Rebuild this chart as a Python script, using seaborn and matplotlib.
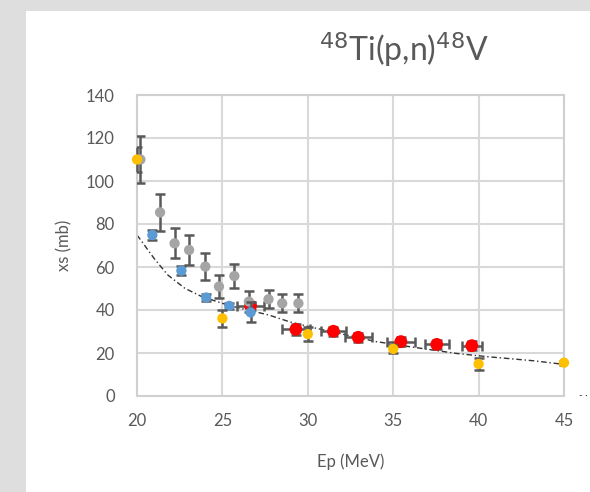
import pandas as pd
import matplotlib.pyplot as plt
import seaborn as sns
from matplotlib.patches import Rectangle

sns.set_theme(style="white")
plt.rcParams["font.family"] = ["Lato", "DejaVu Sans"]

# gray data set (y errors)
gray_E = [20.2, 21.35, 22.2, 23.05, 24.0, 24.8, 25.7, 26.55, 27.7, 28.5, 29.45]
gray_xs = [110, 85.4, 71, 67.9, 60.2, 50.9, 55.8, 43.9, 45, 43.1, 43.1]
gray_err = [11, 8.7, 7, 7, 6.2, 5.2, 5.5, 5, 4.3, 4.2, 4.2]

# blue data set
blue_E = [20.9, 22.6, 24.05, 25.4, 26.65]
blue_xs = [74.9, 58.3, 45.8, 41.9, 38.9]
blue_err = [2.3, 2, 1.5, 1.5, 4.6]

# yellow data set
yellow_E = [20.0, 25.0, 30.0, 35.0, 40.0, 45.0]
yellow_xs = [110, 36.1, 28.8, 21.9, 14.9, 15.5]
yellow_err = [6, 4, 3.2, 2, 2.7, 1]

# red data set (x and y errors)
red_E = [26.65, 29.3, 31.5, 32.95, 35.45, 37.55, 39.6]
red_xs = [41.9, 31.0, 30.1, 27.3, 25.3, 24.0, 23.4]
red_xerr = [0.8, 0.8, 0.72, 0.78, 0.8, 0.7, 0.6]
red_yerr = [2, 2.6, 2, 2, 2, 2, 2]

# trend curve
trend_E = [20, 21, 21.8, 22.8, 23.8, 25, 25.7, 27.7, 28.9, 30.1, 34, 36, 38.7, 40.5, 43.2, 45]
trend_xs = [74.9, 64, 56.3, 50.1, 46.2, 43.1, 41.5, 37.7, 34.6, 32.2, 25.3, 22.9, 19.8, 18.3, 16.4, 14.7]

fig = plt.figure(figsize=(5.9, 4.92), dpi=100)
fig.patch.set_facecolor("#dedede")
# white card with shadow edge
fig.add_artist(Rectangle((26 / 590, 0), 1, 1 - 11 / 492, transform=fig.transFigure,
                         facecolor="white", edgecolor="none", zorder=0))

ax = fig.add_axes([137 / 590, 96 / 492, 427 / 590, 301 / 492])
ax.set_facecolor("white")

err_kw = dict(fmt="none", ecolor="#595959", elinewidth=1.8, capsize=3.5, capthick=1.8)

trend = pd.DataFrame({"E": trend_E, "xs": trend_xs})
sns.lineplot(data=trend, x="E", y="xs", ax=ax, color="#333333", linewidth=1,
             linestyle=(0, (4, 2, 1, 2)), zorder=2)

ax.errorbar(red_E, red_xs, xerr=red_xerr, yerr=red_yerr, zorder=3, **err_kw)
sns.scatterplot(x=red_E, y=red_xs, ax=ax, color="#ff0000", s=85, edgecolor="none", zorder=4)

ax.errorbar(gray_E, gray_xs, yerr=gray_err, zorder=5, **err_kw)
sns.scatterplot(x=gray_E, y=gray_xs, ax=ax, color="#a5a5a5", s=55, edgecolor="none", zorder=6)

ax.errorbar(blue_E, blue_xs, yerr=blue_err, zorder=7, **err_kw)
sns.scatterplot(x=blue_E, y=blue_xs, ax=ax, color="#5b9bd5", s=55, edgecolor="none", zorder=8)

ax.errorbar(yellow_E, yellow_xs, yerr=yellow_err, zorder=9, **err_kw)
sns.scatterplot(x=yellow_E, y=yellow_xs, ax=ax, color="#ffc000", s=55, edgecolor="none", zorder=10)

for c in ax.collections:
    c.set_clip_on(False)

ax.set_xlim(20, 45)
ax.set_ylim(0, 140)
ax.set_xticks(range(20, 46, 5))
ax.set_yticks(range(0, 141, 20))
ax.grid(True, color="#d9d9d9", linewidth=1.5)
ax.set_axisbelow(True)
for s in ax.spines.values():
    s.set_color("#d0d0d0")
    s.set_linewidth(1.5)
ax.tick_params(axis="both", length=0, labelsize=12, labelcolor="#595959", pad=12)
ax.tick_params(axis="y", pad=16)

ax.set_xlabel("Ep (MeV)", fontsize=12, color="#595959", labelpad=18)
ax.set_ylabel("xs (mb)", fontsize=12, color="#595959", labelpad=10)

fig.text(404 / 590, 1 - 50 / 492, r"$^{48}$Ti(p,n)$^{48}$V", ha="center", va="center",
         fontsize=23, color="#595959")
fig.text(583 / 590, 1 - 395 / 492, "- ·", ha="center", va="center", fontsize=7, color="#333333")

fig.savefig("out.png", dpi=100)
